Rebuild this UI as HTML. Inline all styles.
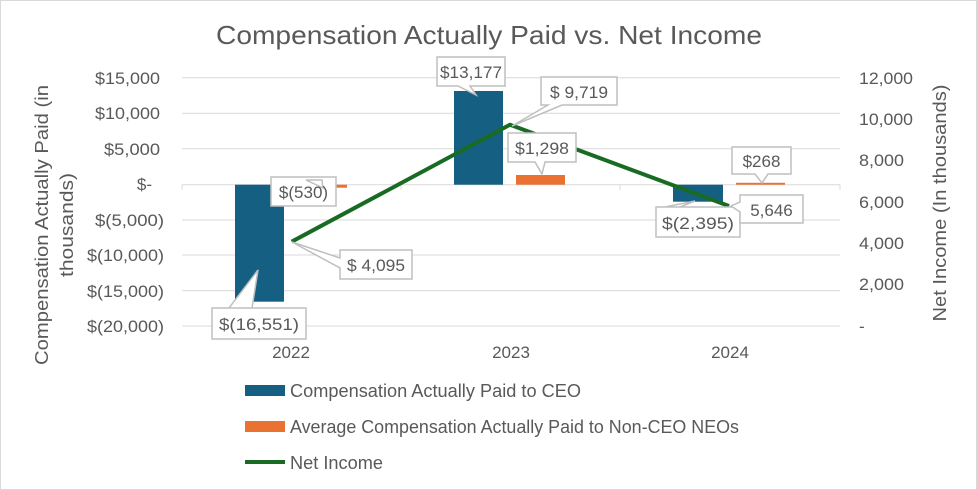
<!DOCTYPE html>
<html><head><meta charset="utf-8"><style>
html,body{margin:0;padding:0;background:#fff;}
svg{display:block;font-family:"Liberation Sans",sans-serif;}
</style></head><body>
<svg width="977" height="490" viewBox="0 0 977 490" xmlns="http://www.w3.org/2000/svg">
<rect x="0.5" y="0.5" width="976" height="489" fill="#fff" stroke="#d9d9d9"/>
<text x="489" y="44" text-anchor="middle" font-size="26" fill="#595959" textLength="546" lengthAdjust="spacingAndGlyphs">Compensation Actually Paid vs. Net Income</text>
<g stroke="#d9d9d9" stroke-width="1">
<line x1="182" x2="840" y1="77.7" y2="77.7"/>
<line x1="182" x2="840" y1="113.3" y2="113.3"/>
<line x1="182" x2="840" y1="148.7" y2="148.7"/>
<line x1="182" x2="840" y1="220" y2="220"/>
<line x1="182" x2="840" y1="255" y2="255"/>
<line x1="182" x2="840" y1="290.7" y2="290.7"/>
<line x1="182" x2="840" y1="326" y2="326"/>
<line x1="182" x2="840" y1="184.7" y2="184.7"/>
<line x1="182" x2="182" y1="184.7" y2="189.7"/>
<line x1="401" x2="401" y1="184.7" y2="189.7"/>
<line x1="620" x2="620" y1="184.7" y2="189.7"/>
<line x1="840" x2="840" y1="184.7" y2="189.7"/>
</g>
<g font-size="17" fill="#595959" text-anchor="end">
<text x="160" y="84" textLength="65" lengthAdjust="spacingAndGlyphs">$15,000</text>
<text x="160" y="119" textLength="65" lengthAdjust="spacingAndGlyphs">$10,000</text>
<text x="160" y="155" textLength="56" lengthAdjust="spacingAndGlyphs">$5,000</text>
<text x="152" y="190">$-</text>
<text x="164" y="226" textLength="69" lengthAdjust="spacingAndGlyphs">$(5,000)</text>
<text x="164" y="261" textLength="77" lengthAdjust="spacingAndGlyphs">$(10,000)</text>
<text x="164" y="297" textLength="77" lengthAdjust="spacingAndGlyphs">$(15,000)</text>
<text x="164" y="332" textLength="77" lengthAdjust="spacingAndGlyphs">$(20,000)</text>
</g>
<g font-size="17" fill="#595959" text-anchor="start">
<text x="859" y="84" textLength="54" lengthAdjust="spacingAndGlyphs">12,000</text>
<text x="859" y="125" textLength="54" lengthAdjust="spacingAndGlyphs">10,000</text>
<text x="859" y="166" textLength="45" lengthAdjust="spacingAndGlyphs">8,000</text>
<text x="859" y="208" textLength="45" lengthAdjust="spacingAndGlyphs">6,000</text>
<text x="859" y="249" textLength="45" lengthAdjust="spacingAndGlyphs">4,000</text>
<text x="859" y="290" textLength="45" lengthAdjust="spacingAndGlyphs">2,000</text>
<text x="859" y="332">-</text>
</g>
<g font-size="17" fill="#595959" text-anchor="middle">
<text x="291" y="358">2022</text>
<text x="511" y="358">2023</text>
<text x="730" y="358">2024</text>
</g>
<text transform="translate(48,225) rotate(-90)" text-anchor="middle" font-size="18" fill="#595959" textLength="280" lengthAdjust="spacingAndGlyphs">Compensation Actually Paid (in</text>
<text transform="translate(73,225) rotate(-90)" text-anchor="middle" font-size="18" fill="#595959" textLength="104" lengthAdjust="spacingAndGlyphs">thousands)</text>
<text transform="translate(946,203) rotate(-90)" text-anchor="middle" font-size="18" fill="#595959" textLength="237" lengthAdjust="spacingAndGlyphs">Net Income (In thousands)</text>
<rect x="235" y="184.7" width="49" height="117" fill="#156082"/>
<rect x="298" y="184.7" width="49" height="3" fill="#e97132"/>
<rect x="454" y="91" width="49" height="93.7" fill="#156082"/>
<rect x="516" y="175" width="49" height="9.7" fill="#e97132"/>
<rect x="673" y="184.7" width="50" height="17" fill="#156082"/>
<rect x="736" y="182.8" width="49" height="1.9" fill="#e97132"/>
<polyline points="291.7,241.7 510,124.7 729,206" fill="none" stroke="#196b24" stroke-width="4" stroke-linejoin="round"/>
<g fill="#fff" stroke="#bfbfbf" stroke-width="1.5">
<polygon points="437,57 505,57 505,86 470,86 476,95 458,86 437,86"/>
<polygon points="541,77 617,77 617,105 562,105 512,126 548,105 541,105"/>
<polygon points="508,133 576,133 576,162 545,162 542,174 535,162 508,162"/>
<polygon points="732,147 791,147 791,174 768,174 762,183 755,174 732,174"/>
<polygon points="271,177 336,177 336,206 271,206 271,192"/>
<polygon points="306,180 322,180 323,188"/>
<polygon points="340,250 412,250 412,279 340,279 340,268 292,242 340,258"/>
<polygon points="212,308 306,308 306,339 212,339 212,308 229,308 258,270 252,308"/>
<polygon points="656,207 740,207 740,237 656,237 656,207 665,207 695,201 680,207"/>
<polygon points="740,195 803,195 803,223 740,223 740,212 731,206 740,202"/>
</g>
<g font-size="17" fill="#595959" text-anchor="middle">
<text x="471" y="78" textLength="62" lengthAdjust="spacingAndGlyphs">$13,177</text>
<text x="579" y="98" textLength="58" lengthAdjust="spacingAndGlyphs">$ 9,719</text>
<text x="542" y="154" textLength="54" lengthAdjust="spacingAndGlyphs">$1,298</text>
<text x="761.5" y="167">$268</text>
<text x="303.5" y="198">$(530)</text>
<text x="376" y="271" textLength="58" lengthAdjust="spacingAndGlyphs">$ 4,095</text>
<text x="259" y="330" textLength="80" lengthAdjust="spacingAndGlyphs">$(16,551)</text>
<text x="698" y="229" textLength="72" lengthAdjust="spacingAndGlyphs">$(2,395)</text>
<text x="771.5" y="216">5,646</text>
</g>
<rect x="245" y="385" width="40" height="11" fill="#156082"/>
<text x="290" y="397" font-size="18" fill="#595959" textLength="291" lengthAdjust="spacingAndGlyphs">Compensation Actually Paid to CEO</text>
<rect x="245" y="421" width="40" height="11" fill="#e97132"/>
<text x="290" y="433" font-size="18" fill="#595959" textLength="449" lengthAdjust="spacingAndGlyphs">Average Compensation Actually Paid to Non-CEO NEOs</text>
<line x1="245" x2="285" y1="462" y2="462" stroke="#196b24" stroke-width="4"/>
<text x="290" y="469" font-size="18" fill="#595959" textLength="93" lengthAdjust="spacingAndGlyphs">Net Income</text>
</svg>
</body></html>
